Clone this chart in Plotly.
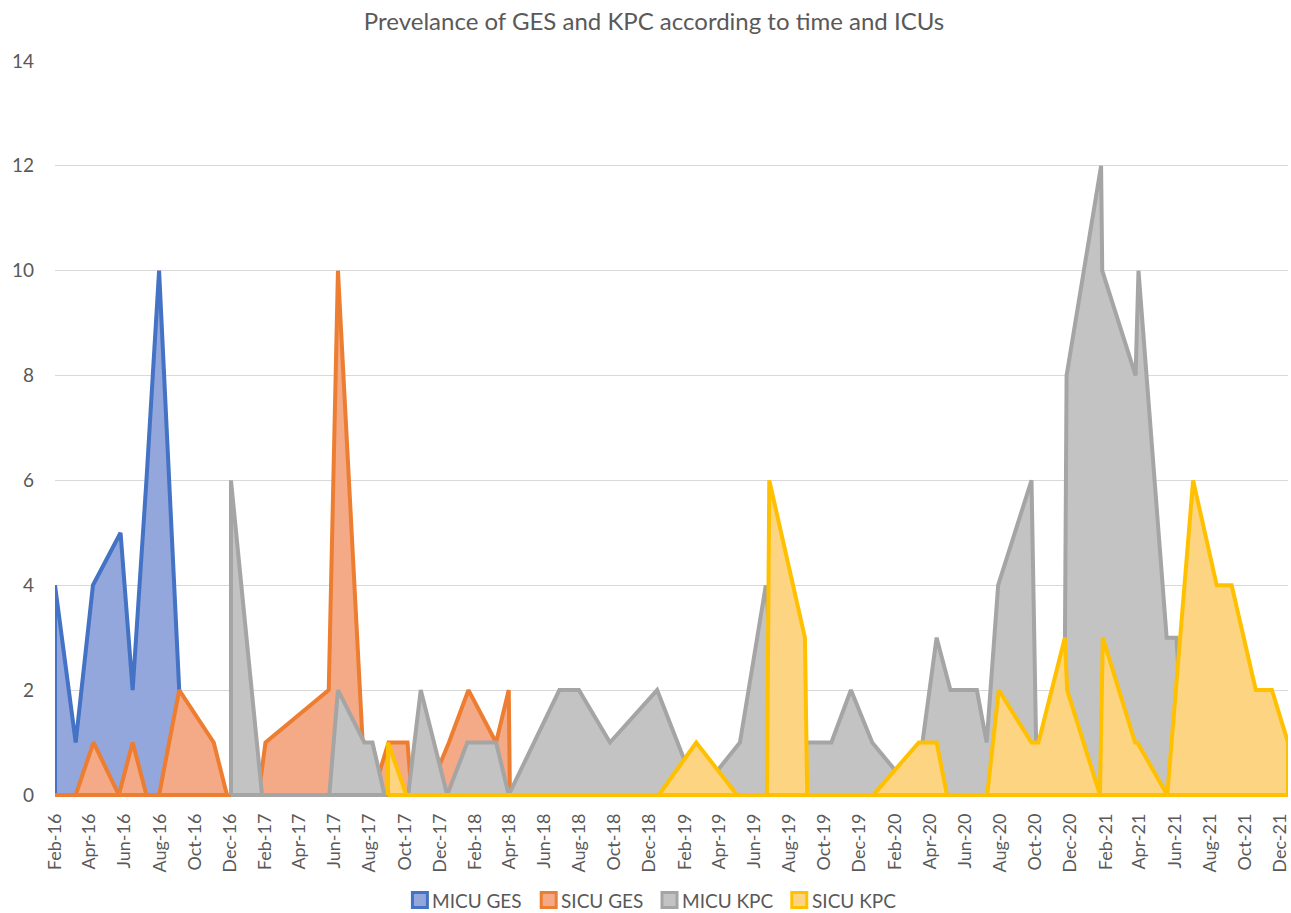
import plotly.graph_objects as go

# ---------------- data ----------------
title_text = "Prevelance of GES and KPC according to time and ICUs"
series_names = ["MICU GES", "SICU GES", "MICU KPC", "SICU KPC"]

micu_ges_dates = ["2016-02-01", "2016-02-01", "2016-03-08", "2016-04-07", "2016-05-25", "2016-06-15",
                  "2016-07-09", "2016-07-31", "2016-09-04", "2016-09-06"]
micu_ges_vals = [0, 4, 1, 4, 5, 2, 6, 10, 2, 0]

sicu_ges_dates = ["2016-02-01", "2016-03-08", "2016-04-08", "2016-05-22", "2016-06-15", "2016-07-09",
                  "2016-07-31", "2016-09-04", "2016-11-03", "2016-11-26", "2017-01-20", "2017-02-01",
                  "2017-05-22", "2017-06-07", "2017-07-20", "2017-08-06", "2017-09-03", "2017-10-06",
                  "2017-10-13", "2017-11-09", "2017-12-17", "2018-01-20", "2018-03-09", "2018-03-31",
                  "2018-04-02", "2021-12-15"]
sicu_ges_vals = [0, 0, 1, 0, 1, 0, 0, 2, 1, 0, 0, 1, 2, 10, 1, 0, 1, 1, 0, 0, 1, 2, 1, 2, 0, 0]

micu_kpc_dates = ["2016-12-03", "2016-12-03", "2017-01-26", "2017-05-23", "2017-06-07", "2017-07-23",
                  "2017-08-06", "2017-08-27", "2017-10-07", "2017-10-29", "2017-12-14", "2018-01-18",
                  "2018-03-09", "2018-03-31", "2018-06-27", "2018-07-31", "2018-09-23", "2018-12-14",
                  "2019-02-23", "2019-05-07", "2019-06-21", "2019-07-14", "2019-09-04", "2019-10-13",
                  "2019-11-16", "2019-12-23", "2020-03-07", "2020-04-13", "2020-05-07", "2020-06-22",
                  "2020-07-09", "2020-07-29", "2020-09-25", "2020-10-03", "2020-10-09", "2020-11-21",
                  "2020-11-25", "2021-01-24", "2021-01-26", "2021-03-25", "2021-03-30", "2021-05-18",
                  "2021-06-04", "2021-06-21", "2021-12-15"]
micu_kpc_vals = [0, 6, 0, 0, 2, 1, 1, 0, 0, 2,
                 0, 1, 1, 0, 2, 2, 1, 2, 0, 1,
                 4, 1, 1, 1, 2, 1, 0, 3, 2, 2,
                 1, 4, 6, 1, 1, 1, 8, 12, 10, 8,
                 10, 3, 3, 0, 0]

sicu_kpc_dates = ["2017-09-02", "2017-09-02", "2017-10-04", "2018-12-17", "2019-02-20", "2019-05-02",
                  "2019-06-23", "2019-06-27", "2019-08-28", "2019-09-01", "2019-12-25", "2020-03-13",
                  "2020-04-13", "2020-05-01", "2020-07-10", "2020-07-30", "2020-09-25", "2020-10-07",
                  "2020-11-22", "2020-11-26", "2021-01-22", "2021-01-27", "2021-03-24", "2021-03-28",
                  "2021-05-19", "2021-07-03", "2021-08-13", "2021-09-08", "2021-10-20", "2021-11-17",
                  "2021-12-15", "2021-12-15"]
sicu_kpc_vals = [0, 1, 0, 0, 1, 0, 0, 6, 3, 0,
                 0, 1, 1, 0, 0, 2, 1, 1, 3, 2,
                 0, 3, 1, 1, 0, 6, 4, 4, 2, 2,
                 1, 0]

x_range = ["2016-02-01", "2021-12-15"]
y_ticks = [0, 2, 4, 6, 8, 10, 12, 14]

# ---------------- style / layout ----------------
W, H = 1291, 913
M_L, M_R, M_T, M_B = 55, 1, 61, 116
line_colors = ["#4472C4", "#ED7D31", "#A5A5A5", "#FFC000"]
fill_colors = ["#93a7dc", "#f4aa86", "#c3c3c3", "#fdd482"]
text_color = "#595959"
font_family = "Lato, 'Open Sans', sans-serif"

plot_w = W - M_L - M_R
plot_h = H - M_T - M_B


def px_to_paper(px, py):
    return (px - M_L) / plot_w, (H - M_B - py) / plot_h


fig = go.Figure()
all_series = [
    (micu_ges_dates, micu_ges_vals),
    (sicu_ges_dates, sicu_ges_vals),
    (micu_kpc_dates, micu_kpc_vals),
    (sicu_kpc_dates, sicu_kpc_vals),
]
# Excel-style area: closed outline including the baseline
for (xs, ys), name, lc, fc in zip(all_series, series_names, line_colors, fill_colors):
    fig.add_trace(go.Scatter(
        x=list(xs) + [xs[-1], xs[0]],
        y=list(ys) + [0, 0],
        name=name, mode="lines",
        line=dict(color=lc, width=4),
        fill="toself", fillcolor=fc,
        showlegend=False, hoverinfo="skip",
    ))

# legend drawn as squares + text (Excel layout)
legend_marker_left = [413, 542, 663, 793]
marker_size = 15
legend_center_y = 900
shapes = []
annotations = []
for left, name, lc, fc in zip(legend_marker_left, series_names, line_colors, fill_colors):
    x0, y0 = px_to_paper(left, legend_center_y + marker_size / 2)
    x1, y1 = px_to_paper(left + marker_size, legend_center_y - marker_size / 2)
    shapes.append(dict(type="rect", xref="paper", yref="paper", x0=x0, x1=x1, y0=y0, y1=y1,
                       fillcolor=fc, line=dict(color=lc, width=3), layer="above"))
    tx, ty = px_to_paper(left + marker_size + 3, legend_center_y)
    annotations.append(dict(text=name, xref="paper", yref="paper", x=tx, y=ty,
                            xanchor="left", yanchor="middle", showarrow=False,
                            font=dict(size=19, color=text_color, family=font_family)))

fig.update_layout(
    width=W, height=H,
    margin=dict(l=M_L, r=M_R, t=M_T, b=M_B),
    paper_bgcolor="white", plot_bgcolor="white",
    font=dict(family=font_family, color=text_color, size=17),
    title=dict(text=title_text, x=654 / W, xref="container", xanchor="center",
               y=1 - 22 / H, yref="container", yanchor="middle",
               font=dict(size=24, color=text_color, family=font_family)),
    showlegend=False,
    shapes=shapes,
    annotations=annotations,
)
fig.update_xaxes(
    type="date", range=x_range, tick0="2016-02-01", dtick="M2", tickformat="%b-%y",
    tickangle=-90, showgrid=False, zeroline=False, showline=False, ticks="",
    tickfont=dict(size=18, color=text_color), ticklabelstandoff=12,
    ticklabeloverflow="allow",
)
fig.update_yaxes(
    range=[-0.04, 14], tickvals=y_ticks, showgrid=True, gridcolor="#d9d9d9", gridwidth=1,
    zeroline=False, showline=False, ticks="", tickfont=dict(size=19, color=text_color),
    ticklabelstandoff=20,
)

fig.write_html("out.html", config={"displayModeBar": False},
               post_script="document.body.style.margin='0';")
